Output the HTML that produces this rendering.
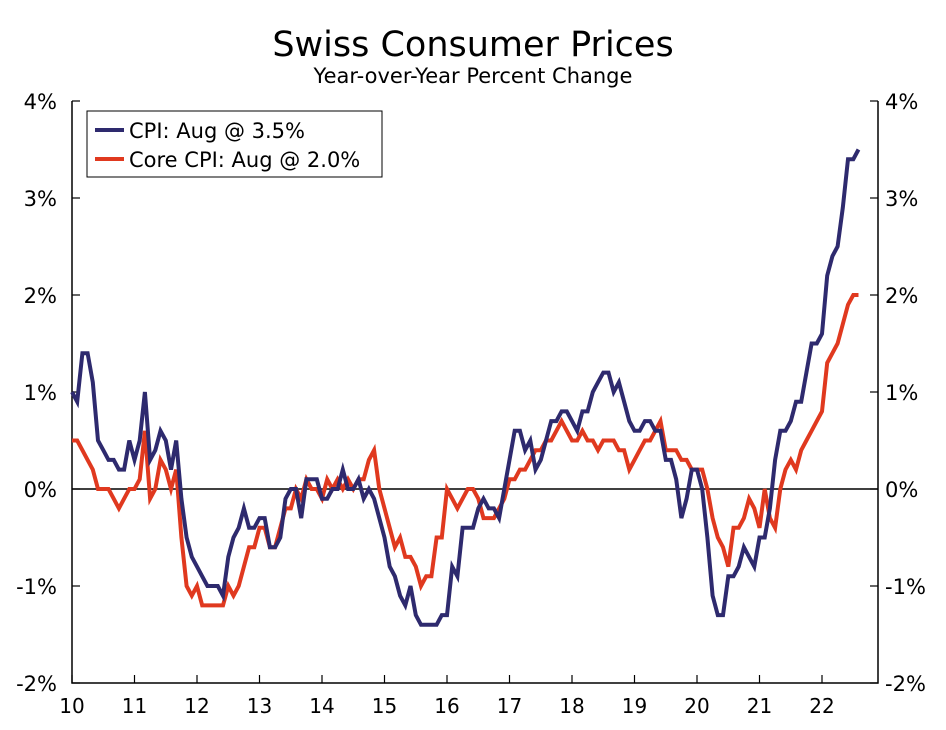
<!DOCTYPE html>
<html><head><meta charset="utf-8"><style>
body{margin:0;background:#fff;}
svg text{font-family:"DejaVu Sans","Liberation Sans",sans-serif;fill:#000;}
</style></head><body>
<svg width="946" height="725" xmlns="http://www.w3.org/2000/svg">
<text x="473" y="56" font-size="35" text-anchor="middle">Swiss Consumer Prices</text>
<text x="473" y="83" font-size="21" text-anchor="middle">Year-over-Year Percent Change</text>
<g id="axes"></g>
<g id="series"></g>
<g>
<rect x="87" y="111" width="295" height="66" fill="#fff" stroke="#000" stroke-width="1"/>
<line x1="95" y1="130" x2="124" y2="130" stroke="#2e2a6e" stroke-width="4"/>
<text x="129" y="138" font-size="21">CPI: Aug @ 3.5%</text>
<line x1="95" y1="159" x2="124" y2="159" stroke="#e0391f" stroke-width="4"/>
<text x="129" y="167" font-size="21">Core CPI: Aug @ 2.0%</text>
</g>
</svg>
<script>
const yearLabels=["10","11","12","13","14","15","16","17","18","19","20","21","22"];
const yTicks=[-2,-1,0,1,2,3,4];
const cpi=[1.0,0.9,1.4,1.4,1.1,0.5,0.4,0.3,0.3,0.2,0.2,0.5,
0.3,0.5,1.0,0.3,0.4,0.6,0.5,0.2,0.5,-0.1,-0.5,-0.7,
-0.8,-0.9,-1.0,-1.0,-1.0,-1.1,-0.7,-0.5,-0.4,-0.2,-0.4,-0.4,
-0.3,-0.3,-0.6,-0.6,-0.5,-0.1,0.0,0.0,-0.3,0.1,0.1,0.1,
-0.1,-0.1,0.0,0.0,0.2,0.0,0.0,0.1,-0.1,0.0,-0.1,-0.3,
-0.5,-0.8,-0.9,-1.1,-1.2,-1.0,-1.3,-1.4,-1.4,-1.4,-1.4,-1.3,
-1.3,-0.8,-0.9,-0.4,-0.4,-0.4,-0.2,-0.1,-0.2,-0.2,-0.3,0.0,
0.3,0.6,0.6,0.4,0.5,0.2,0.3,0.5,0.7,0.7,0.8,0.8,
0.7,0.6,0.8,0.8,1.0,1.1,1.2,1.2,1.0,1.1,0.9,0.7,
0.6,0.6,0.7,0.7,0.6,0.6,0.3,0.3,0.1,-0.3,-0.1,0.2,
0.2,0.0,-0.5,-1.1,-1.3,-1.3,-0.9,-0.9,-0.8,-0.6,-0.7,-0.8,
-0.5,-0.5,-0.2,0.3,0.6,0.6,0.7,0.9,0.9,1.2,1.5,1.5,
1.6,2.2,2.4,2.5,2.9,3.4,3.4,3.5];
const core=[0.5,0.5,0.4,0.3,0.2,0.0,0.0,0.0,-0.1,-0.2,-0.1,0.0,
0.0,0.1,0.6,-0.1,0.0,0.3,0.2,0.0,0.2,-0.5,-1.0,-1.1,
-1.0,-1.2,-1.2,-1.2,-1.2,-1.2,-1.0,-1.1,-1.0,-0.8,-0.6,-0.6,
-0.4,-0.4,-0.6,-0.6,-0.4,-0.2,-0.2,0.0,-0.1,0.1,0.0,0.0,
-0.1,0.1,0.0,0.1,0.0,0.1,0.0,0.1,0.1,0.3,0.4,0.0,
-0.2,-0.4,-0.6,-0.5,-0.7,-0.7,-0.8,-1.0,-0.9,-0.9,-0.5,-0.5,
0.0,-0.1,-0.2,-0.1,0.0,0.0,-0.1,-0.3,-0.3,-0.3,-0.2,-0.1,
0.1,0.1,0.2,0.2,0.3,0.4,0.4,0.5,0.5,0.6,0.7,0.6,
0.5,0.5,0.6,0.5,0.5,0.4,0.5,0.5,0.5,0.4,0.4,0.2,
0.3,0.4,0.5,0.5,0.6,0.7,0.4,0.4,0.4,0.3,0.3,0.2,
0.2,0.2,0.0,-0.3,-0.5,-0.6,-0.8,-0.4,-0.4,-0.3,-0.1,-0.2,
-0.4,0.0,-0.3,-0.4,0.0,0.2,0.3,0.2,0.4,0.5,0.6,0.7,
0.8,1.3,1.4,1.5,1.7,1.9,2.0,2.0];
const NS="http://www.w3.org/2000/svg";
const L=72,R=878,T=101,B=683,yMin=-2,yMax=4;
const xm=i=>L+i*(750/144);
const ys=v=>B-(v-yMin)/(yMax-yMin)*(B-T);
function mk(tag,attrs,parent){const e=document.createElementNS(NS,tag);for(const k in attrs)e.setAttribute(k,attrs[k]);parent.appendChild(e);return e;}
const ax=document.getElementById('axes');
const frame=mk('path',{d:`M${L},${T}V${B}H${R}V${T}`,fill:'none',stroke:'#000','stroke-width':1.5},ax);


yTicks.forEach(t=>{
 const y=ys(t);
 mk('line',{x1:L,x2:L+8,y1:y,y2:y,stroke:'#000','stroke-width':1.2},ax);
 mk('line',{x1:R-8,x2:R,y1:y,y2:y,stroke:'#000','stroke-width':1.2},ax);
 const a=mk('text',{x:L-15,y:y+8,'font-size':21,'text-anchor':'end'},ax);a.textContent=t+'%';
 
 
 const b=mk('text',{x:R+7,y:y+8,'font-size':21,'text-anchor':'start'},ax);b.textContent=t+'%';
 
 
});
const zl=mk('line',{x1:L,x2:R,y1:ys(0),y2:ys(0),stroke:'#000','stroke-width':1.5},ax);


yearLabels.forEach((lab,k)=>{
 const x=xm(k*12);
 mk('line',{x1:x,x2:x,y1:B-8,y2:B,stroke:'#000','stroke-width':1.2},ax);
 const t=mk('text',{x:x,y:B+30,'font-size':20,'text-anchor':'middle'},ax);t.textContent=lab;
 
 
});
const sg=document.getElementById('series');
function line(data,color,name){
 const p=mk('polyline',{points:data.map((v,i)=>xm(i).toFixed(1)+','+ys(v).toFixed(1)).join(' '),fill:'none',stroke:color,'stroke-width':4,'stroke-linejoin':'miter'},sg);
 
 
}
line(core,'#e0391f','core-cpi-line');
line(cpi,'#2e2a6e','cpi-line');
</script>
</body></html>
